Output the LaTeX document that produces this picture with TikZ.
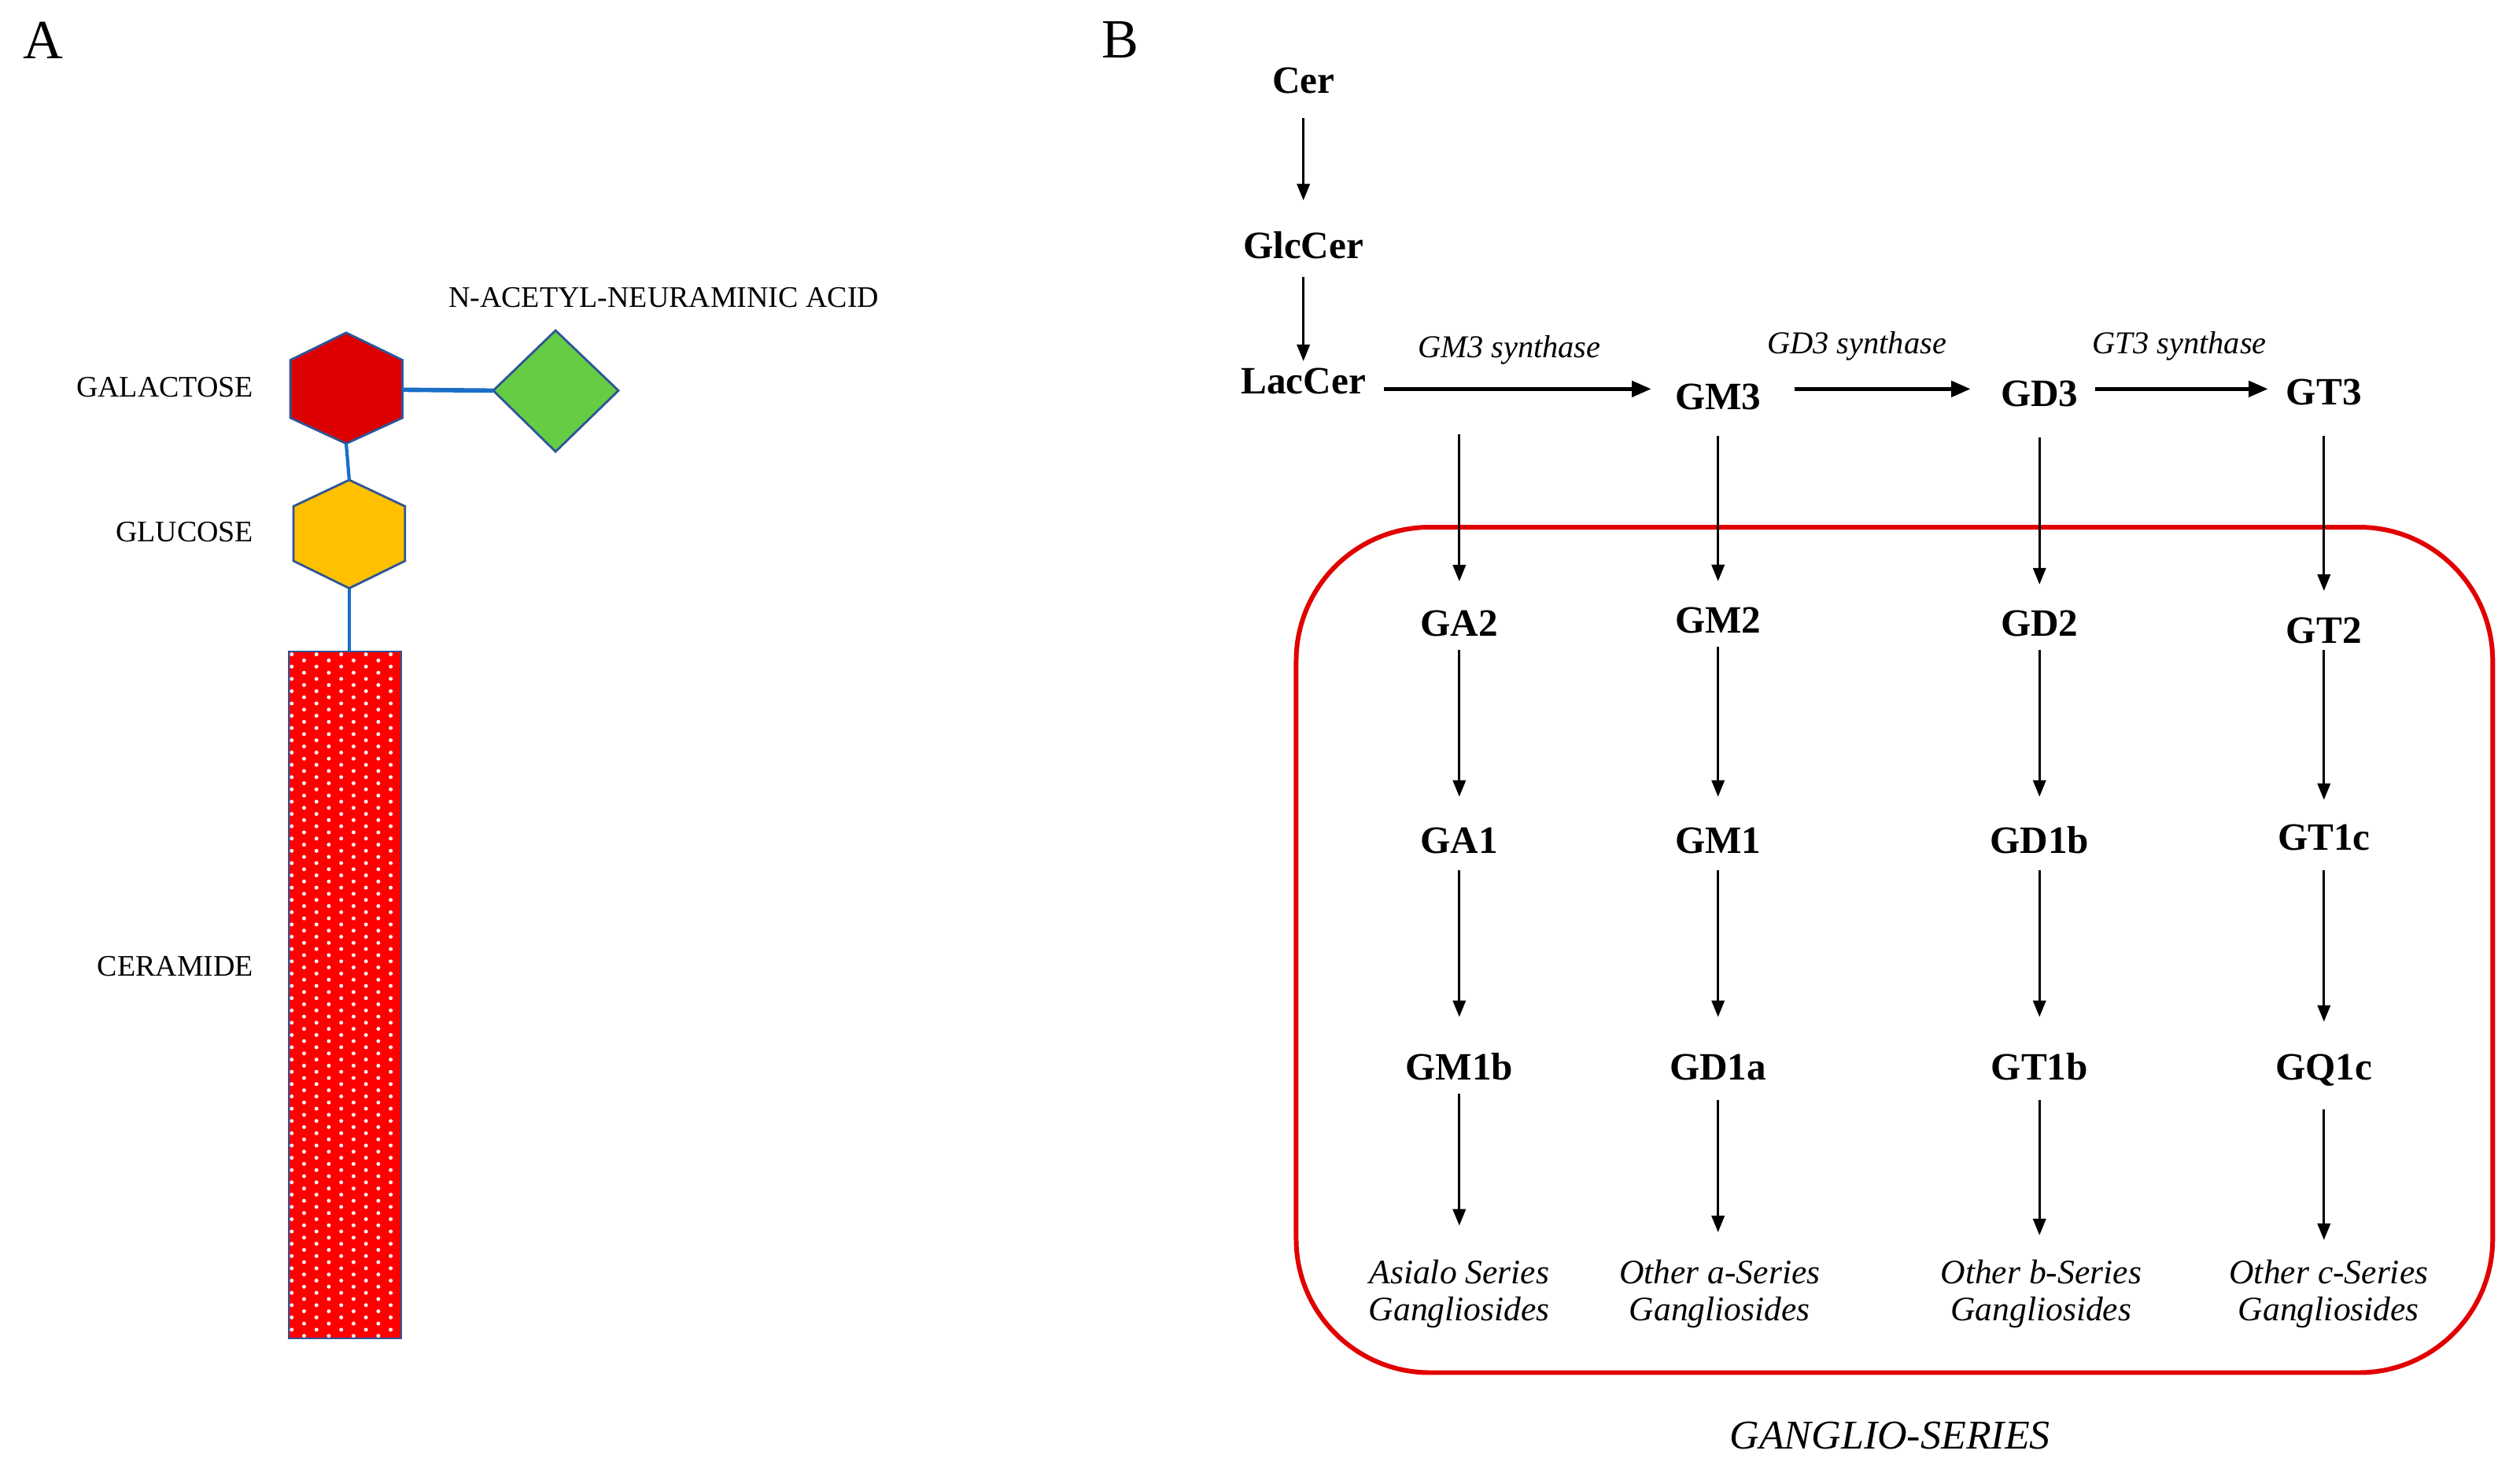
\documentclass[tikz,border=0pt]{standalone}
\usepackage{fontspec}
\setmainfont{Liberation Serif}
\usetikzlibrary{arrows.meta}
\definecolor{galred}{RGB}{220,0,0}
\definecolor{cerred}{RGB}{255,0,0}
\definecolor{glcyel}{RGB}{255,192,0}
\definecolor{siagreen}{RGB}{102,204,68}
\definecolor{edgeblue}{RGB}{47,85,151}
\definecolor{linkblue}{RGB}{25,110,200}
\definecolor{boxred}{RGB}{225,0,0}
\begin{document}
\begin{tikzpicture}[x=0.020427cm,y=-0.020427cm,
  nm/.style={font=\fontsize{14}{16}\selectfont\bfseries, inner sep=0pt, text height=9.3pt, text depth=0pt},
  ser/.style={font=\fontsize{12.4}{13.3}\selectfont\itshape, inner sep=0pt, align=center},
  syn/.style={font=\fontsize{11.5}{13}\selectfont\itshape, inner sep=0pt},
  sug/.style={font=\fontsize{10.8}{12}\selectfont, inner sep=0pt, text height=7.15pt, text depth=0pt},
  panel/.style={font=\fontsize{20}{24}\selectfont, inner sep=0pt},
  varr/.style={-{Triangle[length=6pt,width=4.6pt]}, line width=0.95pt},
  harr/.style={-{Triangle[length=7pt,width=5.6pt]}, line width=1.5pt},
  link/.style={line width=1.2pt, draw=linkblue},
  sugar/.style={draw=edgeblue, line width=0.8pt, line join=miter},
  redbox/.style={draw=boxred, line width=1.7pt}]
\useasboundingbox (0,0) rectangle (1568,913.5);

% ---------- panel labels ----------
\node[panel] (pA) at (27,25) {A};
\node[panel] (pB) at (697,25) {B};

% ---------- panel A ----------
% galactose hexagon
\coordinate (galT) at (215.4,207);
\coordinate (galB) at (215.4,276);
\coordinate (galR) at (250.4,242.5);
\fill[galred] (galT) -- (250.4,224) -- (250.4,260) -- (galB) -- (180.7,260) -- (180.7,224) -- cycle;
\draw[sugar] (galT) -- (250.4,224) -- (250.4,260) -- (galB) -- (180.7,260) -- (180.7,224) -- cycle;
% glucose hexagon
\coordinate (gluT) at (217.3,298.6);
\coordinate (gluB) at (217.3,366);
\fill[glcyel] (gluT) -- (252,315) -- (252,349) -- (gluB) -- (182.6,349) -- (182.6,315) -- cycle;
\draw[sugar] (gluT) -- (252,315) -- (252,349) -- (gluB) -- (182.6,349) -- (182.6,315) -- cycle;
% sialic acid diamond
\coordinate (diaL) at (306.9,243);
\fill[siagreen] (345.7,205.6) -- (384.8,243) -- (345.7,281) -- (diaL) -- cycle;
\draw[sugar] (345.7,205.6) -- (384.8,243) -- (345.7,281) -- (diaL) -- cycle;
% ceramide bar
\coordinate (cerT) at (217.3,405.5);
\fill[cerred] (179.5,405.5) rectangle (249.5,832.5);
\begin{scope}
  \clip (179.5,405.5) rectangle (249.5,832.5);
  \foreach \i in {0,...,111} {
    \pgfmathsetmacro\yy{407.1+3.82*\i}
    \pgfmathsetmacro\xo{181.5+7.7*mod(\i,2)}
    \foreach \j in {0,...,4} {
      \fill[white] (\xo+15.4*\j,\yy) circle[radius=0.7pt];
    }
  }
\end{scope}
\draw[draw=edgeblue, line width=0.6pt] (179.5,405.5) rectangle (249.5,832.5);
% links
\draw[link, line width=1.6pt] (galR) -- (diaL);
\draw[link] (galB) -- (gluT);
\draw[link] (gluB) -- (cerT);
% sugar labels
\node[sug, anchor=east] (lgal) at (158,241) {GALACTOSE};
\node[sug, anchor=east] (lglu) at (158,331) {GLUCOSE};
\node[sug, anchor=east] (lcer) at (158,601) {CERAMIDE};
\node[sug] (lneu) at (413,185) {N-ACETYL-NEURAMINIC ACID};

% ---------- panel B ----------
\draw[redbox, rounded corners=1.7cm] (806.5,328) rectangle (1551,854);

\node[nm] (Cer) at (811,50) {Cer};
\node[nm] (GlcCer) at (811,153) {GlcCer};
\node[nm] (LacCer) at (811,237) {LacCer};

\node[nm] (GM3) at (1069,247) {GM3};
\node[nm] (GD3) at (1269,245) {GD3};
\node[nm] (GT3) at (1446,244) {GT3};

\node[nm] (GA2) at (908,388) {GA2};
\node[nm] (GM2) at (1069,386) {GM2};
\node[nm] (GD2) at (1269,388) {GD2};
\node[nm] (GT2) at (1446,392) {GT2};

\node[nm] (GA1) at (908,523) {GA1};
\node[nm] (GM1) at (1069,523) {GM1};
\node[nm] (GD1b) at (1269,523) {GD1b};
\node[nm] (GT1c) at (1446,521) {GT1c};

\node[nm] (GM1b) at (908,664) {GM1b};
\node[nm] (GD1a) at (1069,664) {GD1a};
\node[nm] (GT1b) at (1269,664) {GT1b};
\node[nm] (GQ1c) at (1446,664) {GQ1c};

\node[ser] (SA) at (908,805) {Asialo Series\\Gangliosides};
\node[ser] (Sa) at (1070,805) {Other a-Series\\Gangliosides};
\node[ser] (Sb) at (1270,805) {Other b-Series\\Gangliosides};
\node[ser] (Sc) at (1449,805) {Other c-Series\\Gangliosides};

\node[font=\fontsize{14.8}{16}\selectfont\itshape, inner sep=0pt] (GS) at (1176,893) {GANGLIO-SERIES};

% top chain
\draw[varr, shorten <=8.8pt, shorten >=11.6pt] (Cer) -- (GlcCer);
\draw[varr, shorten <=6.4pt, shorten >=2.3pt] (GlcCer) -- (LacCer);

% horizontal synthase arrows
\coordinate (hy) at (0,242);
\draw[harr, shorten <=6.4pt, shorten >=8.4pt] (LacCer.east |- hy) -- (GM3.west |- hy)
  node[syn, midway, yshift=14pt, xshift=-4pt] (s1) {GM3 synthase};
\draw[harr, shorten <=11.8pt, shorten >=10.7pt] (GM3.east |- hy) -- (GD3.west |- hy)
  node[syn, midway, yshift=15.5pt, xshift=-8.7pt] (s2) {GD3 synthase};
\draw[harr, shorten <=6pt, shorten >=6.4pt] (GD3.east |- hy) -- (GT3.west |- hy)
  node[syn, midway, yshift=15.5pt, xshift=-1pt] (s3) {GT3 synthase};

% row 0 -> row 1
\coordinate (GAsrc) at (908,270);
\draw[varr, shorten >=10.4pt] (GAsrc) -- (GA2);
\draw[varr, shorten <=9.3pt, shorten >=9.3pt] (GM3) -- (GM2);
\draw[varr, shorten <=11pt, shorten >=9.3pt] (GD3) -- (GD2);
\draw[varr, shorten <=11pt, shorten >=9.3pt] (GT3) -- (GT2);

% row 1 -> row 2
\draw[varr, shorten <=4.6pt, shorten >=11pt] (GA2) -- (GA1);
\draw[varr, shorten <=4.6pt, shorten >=11pt] (GM2) -- (GM1);
\draw[varr, shorten <=4.6pt, shorten >=11pt] (GD2) -- (GD1b);
\draw[varr, shorten <=2.3pt, shorten >=8.7pt] (GT2) -- (GT1c);

% row 2 -> row 3
\draw[varr, shorten <=5.8pt, shorten >=13.3pt] (GA1) -- (GM1b);
\draw[varr, shorten <=5.8pt, shorten >=13.3pt] (GM1) -- (GD1a);
\draw[varr, shorten <=5.8pt, shorten >=13.3pt] (GD1b) -- (GT1b);
\draw[varr, shorten <=7pt, shorten >=11.6pt] (GT1c) -- (GQ1c);

% row 3 -> series labels
\draw[varr, shorten <=4.6pt, shorten >=12.2pt] (GM1b) -- (GM1b |- SA.north);
\draw[varr, shorten <=7pt, shorten >=9.8pt] (GD1a) -- (GD1a |- Sa.north);
\draw[varr, shorten <=7pt, shorten >=8.7pt] (GT1b) -- (GT1b |- Sb.north);
\draw[varr, shorten <=10.4pt, shorten >=7pt] (GQ1c) -- (GQ1c |- Sc.north);
\end{tikzpicture}
\end{document}
